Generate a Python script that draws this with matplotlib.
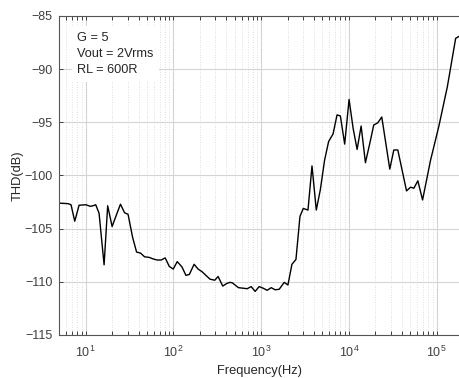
import matplotlib
matplotlib.use('Agg')
import matplotlib.pyplot as plt
from matplotlib.ticker import LogLocator, NullFormatter

plt.rcParams['font.family'] = ['Liberation Sans', 'DejaVu Sans']

# THD vs frequency (G = 5, Vout = 2Vrms, RL = 600R)
freq = [5.0, 6.3, 6.8, 7.5, 8.4, 10.0, 11.3, 12.1, 13.0, 14.2, 16.2, 17.8, 20.0,
        22.4, 24.9, 27.7, 30.4, 34.2, 38.0, 42.2, 46.9, 52.9, 58.8, 65.3, 72.5,
        80.6, 89.6, 99.5, 110.5, 125, 139, 152, 172, 191, 212, 235, 261, 296,
        323, 365, 406, 442, 470, 551, 623, 692, 769, 854, 949, 1054, 1171,
        1301, 1445, 1606, 1832, 2019, 2243, 2492, 2769, 3020, 3418, 3797, 4252,
        4724, 5289, 5876, 6597, 7331, 8000, 8954, 10050, 11170, 12410, 13790,
        15440, 17290, 19210, 21340, 23710, 29260, 32510, 36120, 45410, 50460,
        55040, 61140, 69180, 85380, 106200, 132600, 164900, 181700]
thd = [-102.6, -102.65, -102.75, -104.3, -102.8, -102.75, -102.9, -102.85,
       -102.75, -103.55, -108.4, -102.85, -104.8, -103.7, -102.7, -103.5,
       -103.65, -105.8, -107.2, -107.3, -107.65, -107.7, -107.85, -107.95,
       -107.95, -107.75, -108.55, -108.8, -108.1, -108.6, -109.4, -109.3,
       -108.35, -108.8, -109.05, -109.4, -109.75, -109.85, -109.5, -110.4,
       -110.15, -110.05, -110.1, -110.55, -110.6, -110.65, -110.45, -110.9,
       -110.45, -110.6, -110.8, -110.55, -110.75, -110.7, -110.05, -110.3,
       -108.35, -107.9, -103.85, -103.1, -103.25, -99.1, -103.25, -101.35,
       -98.55, -96.8, -96.1, -94.3, -94.4, -97.05, -92.85, -95.55, -97.55,
       -95.35, -98.8, -97.0, -95.25, -95.05, -94.5, -99.4, -97.6, -97.6,
       -101.45, -101.1, -101.2, -100.5, -102.3, -98.55, -95.35, -91.65,
       -87.1, -86.9]

note = 'G = 5\nVout = 2Vrms\nRL = 600R'

fig = plt.figure(figsize=(4.59, 3.78), dpi=100)
ax = fig.add_axes([0.1292, 0.1138, 0.8708, 0.8439])

ax.plot(freq, thd, color='black', linewidth=1.0)

ax.set_xscale('log')
ax.set_xlim(5, 1.8e5)
ax.set_ylim(-115, -85)
ax.set_yticks(range(-115, -84, 5))
ax.xaxis.set_major_locator(LogLocator(base=10, numticks=10))
ax.xaxis.set_minor_locator(LogLocator(base=10, subs=range(2, 10), numticks=50))
ax.xaxis.set_minor_formatter(NullFormatter())

ax.grid(True, which='major', color='#d4d4d4', linewidth=0.8, linestyle='-')
ax.grid(True, which='minor', axis='x', color='#d4d4d4', linewidth=0.6, linestyle=(0, (1, 2)))
ax.set_axisbelow(True)

ax.tick_params(which='both', direction='in', top=True, right=False,
               colors='#404040', labelsize=9, length=3, width=0.7)
ax.tick_params(axis='x', pad=7)
ax.tick_params(axis='y', pad=5)
for side in ['left', 'bottom', 'top']:
    ax.spines[side].set_color('#555555')
    ax.spines[side].set_linewidth(0.8)
ax.spines['right'].set_visible(False)

ax.set_xlabel('Frequency(Hz)', fontsize=9.3, color='#262626', labelpad=4)
ax.set_ylabel('THD(dB)', fontsize=9.3, color='#262626', labelpad=0.5)

ax.text(0.045, 0.95, note, transform=ax.transAxes, fontsize=9.2, color='#262626',
        va='top', ha='left', linespacing=1.45,
        bbox=dict(facecolor='white', edgecolor='none', pad=4))

fig.savefig('out.png', dpi=100)
